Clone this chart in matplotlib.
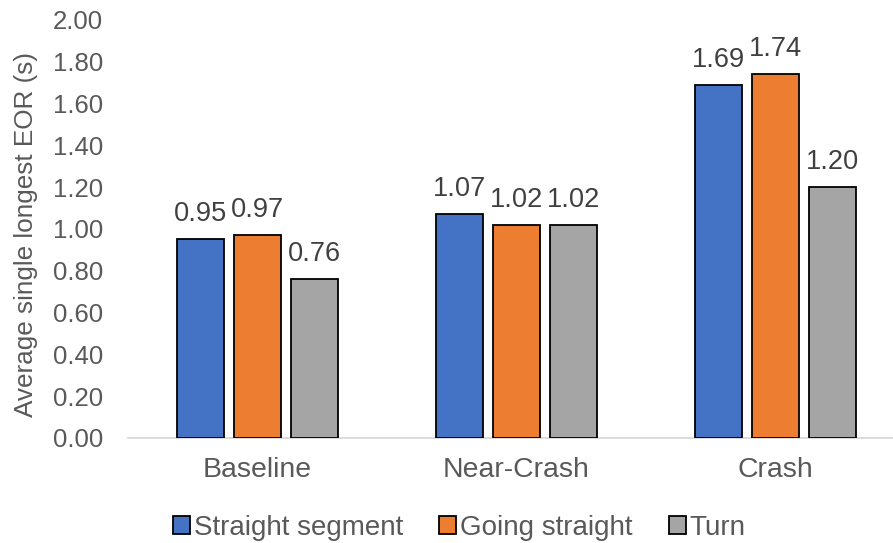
import numpy as np
import matplotlib.pyplot as plt

plt.rcParams['font.family'] = ['Liberation Sans', 'DejaVu Sans']

categories = ['Baseline', 'Near-Crash', 'Crash']
series_names = ['Straight segment', 'Going straight', 'Turn']
straight_segment = [0.95, 1.07, 1.69]
going_straight = [0.97, 1.02, 1.74]
turn = [0.76, 1.02, 1.20]
y_ticks = [0.0, 0.2, 0.4, 0.6, 0.8, 1.0, 1.2, 1.4, 1.6, 1.8, 2.0]

colors = ['#4472C4', '#ED7D31', '#A5A5A5']
text_color = '#595959'
label_color = '#404040'

fig = plt.figure(figsize=(8.93, 5.43), dpi=100)
ax = fig.add_axes([0.1433, 0.1934, 0.8567, 0.9632 - 0.1934])

x = np.arange(len(categories))
width = 0.178
pitch = 0.22
for i, (name, vals) in enumerate(zip(series_names, [straight_segment, going_straight, turn])):
    pos = x + (i - 1) * pitch
    bars = ax.bar(pos, vals, width, color=colors[i], edgecolor='black',
                  linewidth=1.3, label=name, zorder=3)
    for b, v in zip(bars, vals):
        ax.annotate(f'{v:.2f}', (b.get_x() + b.get_width() / 2, v),
                    xytext=(0, 13), textcoords='offset points',
                    ha='center', va='baseline', fontsize=19.6, color=label_color)

ax.set_ylim(0, 2.0)
ax.set_xlim(-0.5, -0.5 + (893 - 128) / 259)
ax.set_yticks(y_ticks)
ax.set_yticklabels([f'{t:.2f}' for t in y_ticks])
ax.set_xticks(x)
ax.set_xticklabels(categories)
ax.tick_params(axis='y', length=0, pad=18, labelsize=18.5, labelcolor=text_color)
ax.tick_params(axis='x', length=0, pad=14, labelsize=20.4, labelcolor=text_color)

for side in ['top', 'right', 'left']:
    ax.spines[side].set_visible(False)
ax.spines['bottom'].set_color('#D9D9D9')
ax.spines['bottom'].set_linewidth(1.3)

ax.set_ylabel('Average single longest EOR (s)', fontsize=18.8, color=text_color)
ax.yaxis.set_label_coords(-0.117, 0.487)

fig.legend(loc='center', bbox_to_anchor=(0.5146, 0.028), ncol=3, frameon=False,
           fontsize=20, labelcolor=text_color, handlelength=0.6, handleheight=0.6,
           handletextpad=0.15, columnspacing=1.3)

fig.savefig('out.png', dpi=100)
